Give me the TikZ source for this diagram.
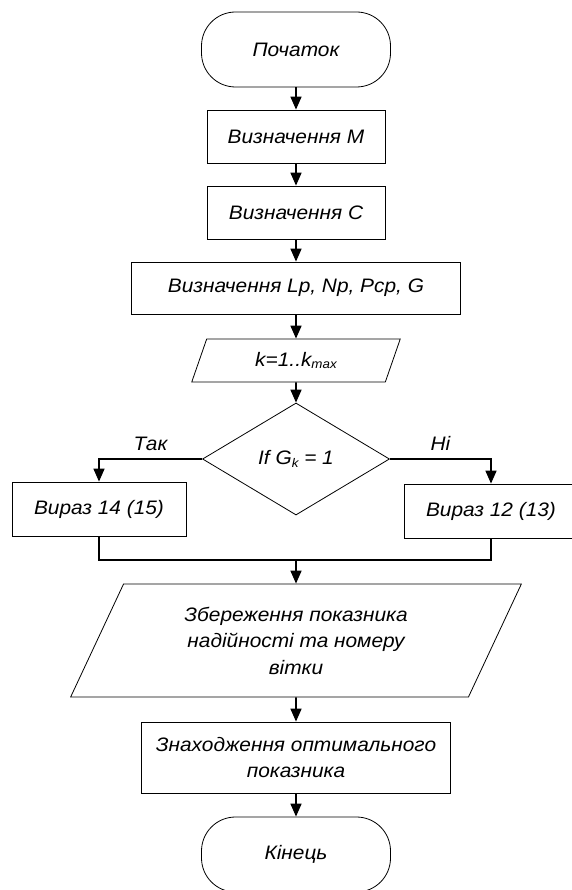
\documentclass[tikz,border=0pt]{standalone}
\usepackage{fontspec}
\setmainfont[FakeStretch=1.07]{Liberation Sans}
\usepackage{tikz}
\usetikzlibrary{arrows.meta,positioning,shapes.geometric}
\newcommand{\sbs}[1]{\raisebox{-2.5pt}{\fontsize{12.5}{12.5}\selectfont #1}}

\begin{document}
\begin{tikzpicture}
              [x=1pt,y=-1pt,
                every node/.style={font=\itshape\fontsize{19.5}{26.5}\selectfont,align=center,inner sep=2pt},
                block/.style={draw,line width=0.8pt,rectangle,minimum height=53pt},
                term/.style={draw,line width=0.8pt,rectangle,rounded corners=34pt,minimum width=189pt,minimum height=75pt},
                io/.style={draw,line width=0.8pt,trapezium,trapezium stretches=true},
                decide/.style={draw,line width=0.8pt,diamond,inner sep=0pt,minimum width=187pt,minimum height=112pt},
                flow/.style={line width=1.6pt,-{Triangle[length=13pt,width=11pt]}},
                merged/.style={line width=1.6pt}]
              \useasboundingbox (0,0) rectangle (571,890);
              \node[term] (beg) at (296,49.5) {Початок};
              \node[block,minimum width=178pt] (defm) at (296,136.5) {Визначення М};
              \node[block,minimum width=178pt] (defc) at (296,212.5) {Визначення С};
              \node[block,minimum width=329pt,minimum height=52pt] (defl) at (296,288) {Визначення Lp, Np, Pcp, G};
              \node[io,minimum width=209pt,minimum height=43pt,trapezium left angle=71,trapezium right angle=109] (loop) at (296,360.5) {k=1..k\sbs{max}};
              \node[decide] (cond) at (296,459) {If G\sbs{k} = 1};
              \node[block,minimum width=174pt,minimum height=54pt] (expr14) at (99,509) {Вираз 14 (15)};
              \node[block,minimum width=174pt,minimum height=54pt] (expr12) at (491,511) {Вираз 12 (13)};
              \coordinate (merge) at (296,560);
              \node[io,minimum width=452pt,minimum height=113pt,trapezium left angle=64,trapezium right angle=116] (save) at (296,640.5) {Збереження показника\\надійності та номеру\\вітки};
              \node[block,minimum width=309pt,minimum height=71pt] (opt) at (296,757.5) {Знаходження оптимального\\показника};
              \node[term] (fin) at (296,854.5) {Кінець};
              \foreach \from/\to in {beg/defm,defm/defc,defc/defl,defl/loop,loop/cond,save/opt,opt/fin}
              \draw[flow] (\from) -- (\to);
              \draw[flow] (cond.west) -| node[pos=0.25,above=6pt] {Так} (expr14.north);
              \draw[flow] (cond.east) -| node[pos=0.25,above=6pt] {Ні} (expr12.north);
              \draw[merged] (expr14.south) |- (merge);
              \draw[merged] (expr12.south) |- (merge);
              \draw[flow] (merge) -- (save.north);
            \end{tikzpicture}
\end{document}
